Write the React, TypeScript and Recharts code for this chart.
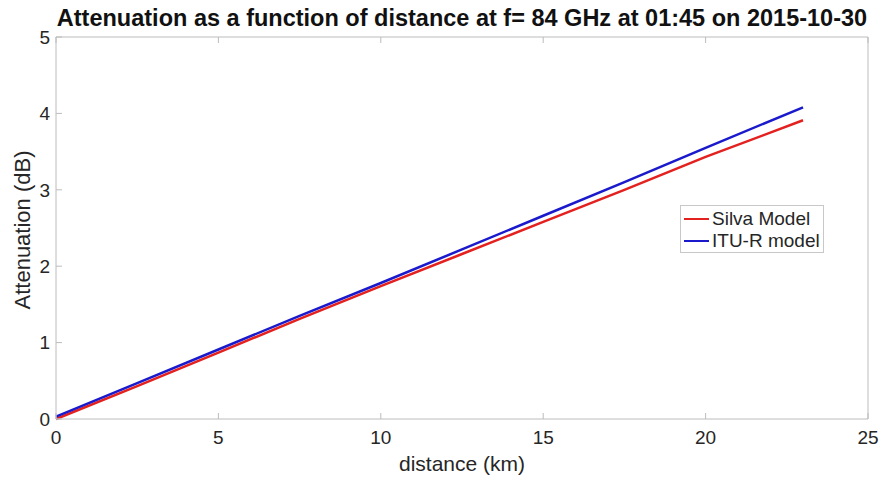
import { Legend, Line, LineChart, XAxis, YAxis } from 'recharts'

const distanceKm = [0, 2.5, 5, 7.5, 10, 12.5, 15, 17.5, 20, 23]
const silvaModel = [0.0, 0.43, 0.87, 1.31, 1.74, 2.16, 2.58, 3.0, 3.43, 3.91]
const ituModel = [0.03, 0.47, 0.91, 1.35, 1.78, 2.22, 2.66, 3.1, 3.55, 4.08]
const xTicks = [0, 5, 10, 15, 20, 25]
const yTicks = [0, 1, 2, 3, 4, 5]

const data = distanceKm.map((d, i) => ({
  distance: d,
  silva: silvaModel[i],
  itu: ituModel[i],
}))

const FONT = '"Liberation Sans", Arial, Helvetica, sans-serif'
const AXIS = '#bcbcbc'
const TEXT = '#262626'

const tickStyle = { fill: TEXT, fontSize: 19, fontFamily: FONT }

function LegendBox() {
  const items = [
    { label: 'Silva Model', color: '#e3211f' },
    { label: 'ITU-R model', color: '#1a1acc' },
  ]
  return (
    <div
      style={{
        boxSizing: 'border-box',
        width: 144,
        height: 48,
        border: '1px solid #c8c8c8',
        background: '#fff',
        padding: '2px 3px 2px 3px',
        fontFamily: FONT,
        fontSize: 19,
        color: TEXT,
        lineHeight: '22px',
        whiteSpace: 'nowrap',
      }}
    >
      {items.map((it) => (
        <div key={it.label} style={{ display: 'flex', alignItems: 'center' }}>
          <span
            style={{
              display: 'inline-block',
              width: 25,
              height: 2.5,
              background: it.color,
              marginRight: 3,
            }}
          />
          {it.label}
        </div>
      ))}
    </div>
  )
}

export default function App() {
  return (
    <div style={{ position: 'absolute', left: 0, top: 0, width: 883, height: 480, background: '#fff' }}>
      <div
        style={{
          position: 'absolute',
          left: 56,
          width: 812,
          top: 5,
          textAlign: 'center',
          fontFamily: FONT,
          fontSize: 23.5,
          fontWeight: 700,
          color: '#111',
          whiteSpace: 'nowrap',
          lineHeight: '27px',
        }}
      >
        Attenuation as a function of distance at f= 84 GHz at 01:45 on 2015-10-30
      </div>
      <div
        style={{
          position: 'absolute',
          left: 56,
          width: 812,
          top: 452,
          textAlign: 'center',
          fontFamily: FONT,
          fontSize: 21,
          color: TEXT,
          lineHeight: '24px',
        }}
      >
        distance (km)
      </div>
      <div
        style={{
          position: 'absolute',
          left: 22,
          top: 230,
          transform: 'translate(-50%, -50%) rotate(-90deg)',
          fontFamily: FONT,
          fontSize: 22,
          color: TEXT,
          whiteSpace: 'nowrap',
          lineHeight: '25px',
        }}
      >
        Attenuation (dB)
      </div>
      <LineChart
        width={883}
        height={480}
        data={data}
        margin={{ top: 0, right: 0, bottom: 0, left: 0 }}
      >
        <XAxis
          dataKey="distance"
          type="number"
          domain={[0, 25]}
          ticks={xTicks}
          height={61}
          stroke={AXIS}
          tickSize={-6}
          tickMargin={18}
          tick={tickStyle}
        />
        <XAxis
          xAxisId="top"
          orientation="top"
          dataKey="distance"
          type="number"
          domain={[0, 25]}
          ticks={xTicks}
          height={37}
          stroke={AXIS}
          tickSize={-6}
          tickFormatter={() => ''}
        />
        <YAxis
          type="number"
          domain={[0, 5]}
          ticks={yTicks}
          width={56}
          stroke={AXIS}
          tickSize={-6}
          tickMargin={12}
          tick={tickStyle}
        />
        <YAxis
          yAxisId="right"
          orientation="right"
          type="number"
          domain={[0, 5]}
          ticks={yTicks}
          width={15}
          stroke={AXIS}
          tickSize={-6}
          tickFormatter={() => ''}
        />
        <Legend
          layout="vertical"
          verticalAlign="middle"
          align="center"
          wrapperStyle={{ left: 680, top: 205, width: 'auto' }}
          content={() => <LegendBox />}
        />
        <Line
          type="linear"
          dataKey="silva"
          stroke="#e3211f"
          strokeWidth={2.5}
          dot={false}
          isAnimationActive={false}
        />
        <Line
          type="linear"
          dataKey="itu"
          stroke="#1a1acc"
          strokeWidth={2.5}
          dot={false}
          isAnimationActive={false}
        />
      </LineChart>
    </div>
  )
}
